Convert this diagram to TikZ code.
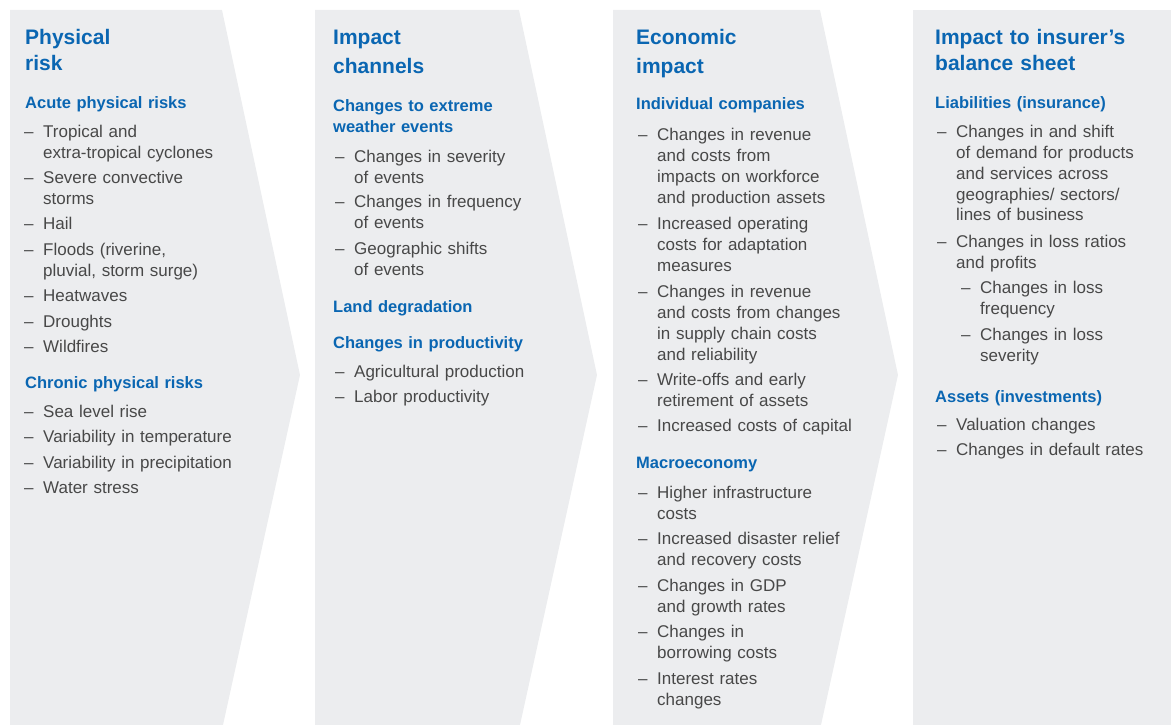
\documentclass[tikz,border=0pt]{standalone}
\usepackage{fontspec}
\setmainfont{Liberation Sans}
\definecolor{panelgray}{RGB}{236,237,239}
\definecolor{titleblue}{RGB}{10,102,178}
\definecolor{bodygray}{RGB}{72,72,72}
\tikzset{
    panel/.style={fill=panelgray},
    ttl/.style={anchor=base west,inner sep=0pt,text width=230pt,align=left,text=titleblue,font=\fontsize{21}{26}\selectfont\bfseries},
    ttlwide/.style={ttl,font=\fontsize{21}{29}\selectfont\bfseries},
    sub/.style={anchor=base west,inner sep=0pt,text width=230pt,align=left,text=titleblue,font=\fontsize{16.5}{21}\selectfont\bfseries},
    itm/.style={anchor=base west,inner sep=0pt,text width=210pt,align=left,text=bodygray,font=\fontsize{17}{21}\selectfont},
    dsh/.style={anchor=base west,inner sep=0pt,text=bodygray,font=\fontsize{17}{21}\selectfont}
}
% dash and item text
\newcommand\itm[4]{\node[dsh](#1d)at(#2-19,#3){–};\node[itm](#1)at(#2,#3){#4};}

\begin{document}
\begin{tikzpicture}[x=1pt,y=-1pt]
    \useasboundingbox(0,0)rectangle(1171,725);
    \fill[panel](10,10)--(222,10)--(300,375)--(223,725)--(10,725)--cycle;
    \fill[panel](315,10)--(519,10)--(597,375)--(520,725)--(315,725)--cycle;
    \fill[panel](613,10)--(820,10)--(898,375)--(821,725)--(613,725)--cycle;
    \fill[panel](913,10)rectangle(1171,725);
    % physical risk
    \node[ttl](p1)at(25,45){Physical\\risk};
    \node[sub](p1a)at(25,108){Acute physical risks};
    \itm{p1a1}{43}{137}{Tropical and\\extra-tropical cyclones}
    \itm{p1a2}{43}{183}{Severe convective\\storms}
    \itm{p1a3}{43}{229}{Hail}
    \itm{p1a4}{43}{255}{Floods (riverine,\\pluvial, storm surge)}
    \itm{p1a5}{43}{301}{Heatwaves}
    \itm{p1a6}{43}{327}{Droughts}
    \itm{p1a7}{43}{352}{Wildfires}
    \node[sub](p1b)at(25,388){Chronic physical risks};
    \itm{p1b1}{43}{417}{Sea level rise}
    \itm{p1b2}{43}{442}{Variability in temperature}
    \itm{p1b3}{43}{468}{Variability in precipitation}
    \itm{p1b4}{43}{493}{Water stress}
    % impact channels
    \node[ttlwide](p2)at(333,45){Impact\\channels};
    \node[sub](p2a)at(333,111){Changes to extreme\\weather events};
    \itm{p2a1}{354}{162}{Changes in severity\\of events}
    \itm{p2a2}{354}{207}{Changes in frequency\\of events}
    \itm{p2a3}{354}{254}{Geographic shifts\\of events}
    \node[sub](p2b)at(333,312){Land degradation};
    \node[sub](p2c)at(333,348){Changes in productivity};
    \itm{p2c1}{354}{377}{Agricultural production}
    \itm{p2c2}{354}{402}{Labor productivity}
    % economic impact
    \node[ttlwide](p3)at(636,45){Economic\\impact};
    \node[sub](p3a)at(636,110){Individual companies};
    \itm{p3a1}{657}{140}{Changes in revenue\\and costs from\\impacts on workforce\\and production assets}
    \itm{p3a2}{657}{229}{Increased operating\\costs for adaptation\\measures}
    \itm{p3a3}{657}{297}{Changes in revenue\\and costs from changes\\in supply chain costs\\and reliability}
    \itm{p3a4}{657}{385}{Write-offs and early\\retirement of assets}
    \itm{p3a5}{657}{431}{Increased costs of capital}
    \node[sub](p3b)at(636,468){Macroeconomy};
    \itm{p3b1}{657}{498}{Higher infrastructure\\costs}
    \itm{p3b2}{657}{544}{Increased disaster relief\\and recovery costs}
    \itm{p3b3}{657}{591}{Changes in GDP\\and growth rates}
    \itm{p3b4}{657}{637}{Changes in\\borrowing costs}
    \itm{p3b5}{657}{684}{Interest rates\\changes}
    % balance sheet
    \node[ttl](p4)at(935,45){Impact to insurer’s\\balance sheet};
    \node[sub](p4a)at(935,108){Liabilities (insurance)};
    \itm{p4a1}{956}{137}{Changes in and shift\\of demand for products\\and services across\\geographies/ sectors/\\lines of business}
    \itm{p4a2}{956}{247}{Changes in loss ratios\\and profits}
    \itm{p4a3}{980}{293}{Changes in loss\\frequency}
    \itm{p4a4}{980}{340}{Changes in loss\\severity}
    \node[sub](p4b)at(935,402){Assets (investments)};
    \itm{p4b1}{956}{430}{Valuation changes}
    \itm{p4b2}{956}{455}{Changes in default rates}
\end{tikzpicture}
\end{document}
